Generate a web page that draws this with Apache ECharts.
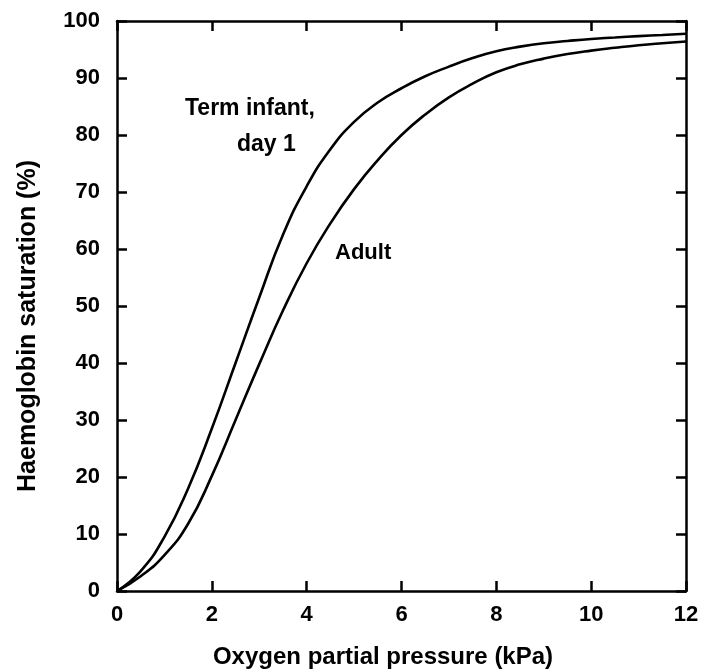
<!DOCTYPE html>
<html>
<head>
<meta charset="utf-8">
<script src="https://cdn.jsdelivr.net/npm/echarts@6/dist/echarts.min.js"></script>
<style>html,body{margin:0;padding:0;background:#fff;}#c{width:702px;height:671px;}</style>
</head>
<body>
<div id="c"></div>
<script>
// Oxygen partial pressure (kPa) sample points
const pressure = [0,0.5,1,1.5,2,2.5,3,3.5,4,4.5,5,5.5,6,6.5,7,7.5,8,8.5,9,9.5,10,10.5,11,11.5,12];
// Term infant, day 1: saturation %
const infantSat = [0,3.5,9.5,18,28.5,40,51.5,62.5,71,77.5,82.3,85.7,88.2,90.3,92,93.5,94.7,95.5,96.1,96.5,96.85,97.1,97.35,97.55,97.75];
// Adult: saturation %
const adultSat  = [0,2.6,6.3,11.8,20.2,30,39.8,49.2,57.5,64.5,70.5,75.6,80,83.6,86.6,89,91,92.4,93.4,94.2,94.8,95.3,95.75,96.1,96.4];
const xTicks = {min:0, max:12, interval:2};
const yTicks = {min:0, max:100, interval:10};
const labels = {infant1:'Term infant,', infant2:'day 1', adult:'Adult',
  xTitle:'Oxygen partial pressure (kPa)', yTitle:'Haemoglobin saturation (%)'};

const FONT = '"Liberation Sans", Arial, sans-serif';
const axisStyle = (pos, showLabel, isX) => ({
  type:'value', position:pos,
  min: isX ? xTicks.min : yTicks.min,
  max: isX ? xTicks.max : yTicks.max,
  interval: isX ? xTicks.interval : yTicks.interval,
  axisLine:{show:true, onZero:false, lineStyle:{color:'#000', width:2.5}},
  axisTick:{show:true, inside:true, length:10, lineStyle:{color:'#000', width:2.5}},
  axisLabel:{show:showLabel, color:'#000', fontFamily:FONT, fontWeight:'bold', fontSize:22, margin: isX?13:17},
  splitLine:{show:false}
});

const chart = echarts.init(document.getElementById('c'));
const lineSeries = (vals) => ({
  type:'line', data:pressure.map((p,i)=>[p, vals[i]]), smooth:0.5, showSymbol:false, symbol:'none',
  lineStyle:{color:'#000', width:2.6}, xAxisIndex:0, yAxisIndex:0, silent:true
});
const txt = (text, x, y, align, size, rot) => ({
  type:'text', x:x, y:y, rotation: rot||0,
  style:{text:text, fill:'#000', font:'bold ' + size + 'px ' + FONT, textAlign:align, textVerticalAlign:'middle'}
});
chart.setOption({
  animation:false,
  backgroundColor:'#fff',
  grid:{left:117, right:16, top:21, bottom:80, containLabel:false},
  xAxis:[axisStyle('bottom', true, true), axisStyle('top', false, true)],
  yAxis:[axisStyle('left', true, false), axisStyle('right', false, false)],
  series:[lineSeries(infantSat), lineSeries(adultSat)],
  graphic:[
    txt(labels.infant1, 185, 109, 'left', 23),
    txt(labels.infant2, 237, 145, 'left', 23),
    txt(labels.adult, 335, 253, 'left', 22),
    txt(labels.xTitle, 383, 657, 'center', 24),
    txt(labels.yTitle, 28, 326, 'center', 25, Math.PI/2)
  ]
});
</script>
</body>
</html>
